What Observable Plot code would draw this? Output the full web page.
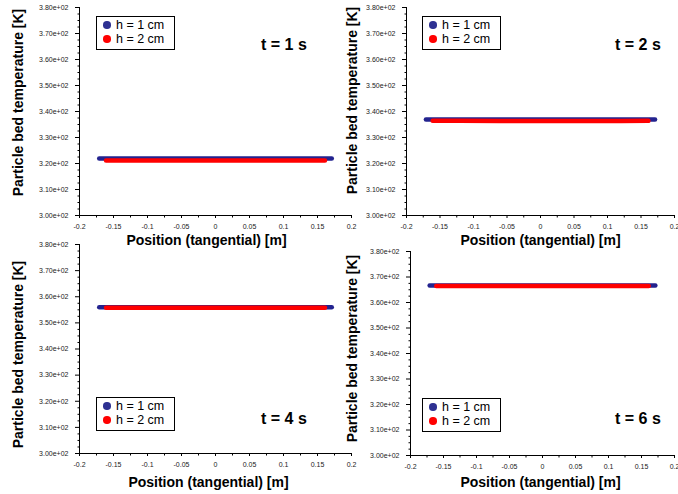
<!DOCTYPE html>
<html><head><meta charset="utf-8">
<script src="https://cdn.jsdelivr.net/npm/d3@7"></script>
<script src="https://cdn.jsdelivr.net/npm/@observablehq/plot@0.6"></script>
<style>
body{margin:0;background:#fff;font-family:"Liberation Sans",Arial,sans-serif;}
#root{position:relative;width:678px;height:494px;overflow:hidden;background:#fff;}
.panel{position:absolute;}
.legend{position:absolute;border:1.5px solid #000;background:#fff;box-sizing:border-box;width:79px;height:34px;font-size:12.5px;color:#000;}
.legend .row{position:absolute;left:0;height:12px;line-height:12px;white-space:nowrap;}
.legend .dot{position:absolute;left:6px;top:2.25px;width:7.5px;height:7.5px;border-radius:50%;}
.legend .lab{position:absolute;left:19px;top:0;}
.tlab{position:absolute;font-size:16px;font-weight:bold;white-space:nowrap;line-height:18px;}
</style>
</head><body><div id="root"></div>
<script>
// ---- data ----
const seriesNames = ["h = 1 cm", "h = 2 cm"];
const seriesColors = ["#23238f", "#ff0000"];
const timeLabels = ["t = 1 s", "t = 2 s", "t = 4 s", "t = 6 s"];
const xs_h1 = [-0.171, -0.12, -0.06, 0, 0.06, 0.12, 0.171];
const xs_h2 = [-0.161, -0.12, -0.06, 0, 0.06, 0.12, 0.161];
const T_t1_h1 = [321.9, 321.9, 321.9, 321.9, 321.9, 321.9, 321.9];
const T_t1_h2 = [321.2, 321.2, 321.2, 321.2, 321.2, 321.2, 321.2];
const T_t2_h1 = [336.9, 336.9, 336.9, 336.9, 336.9, 336.9, 336.9];
const T_t2_h2 = [336.4, 336.4, 336.3, 336.3, 336.3, 336.3, 336.4];
const T_t4_h1 = [356.0, 356.0, 356.0, 356.0, 356.0, 356.0, 356.0];
const T_t4_h2 = [355.8, 355.8, 355.8, 355.8, 355.8, 355.8, 355.8];
const T_t6_h1 = [366.7, 366.7, 366.7, 366.7, 366.7, 366.7, 366.7];
const T_t6_h2 = [366.5, 366.5, 366.5, 366.5, 366.5, 366.5, 366.5];
const yMajorTicks = [300, 310, 320, 330, 340, 350, 360, 370, 380];
const xMajorTicks = [-0.2, -0.15, -0.1, -0.05, 0, 0.05, 0.1, 0.15, 0.2];
const yTitle = "Particle bed temperature [K]";
const xTitle = "Position (tangential) [m]";

// ---- layout ----
const panels = [
  {x0:79, x1:351, yt:7, yb:215, ytx:18, yty:102, xtx:206, xty:240, h1:T_t1_h1, h2:T_t1_h2, t:timeLabels[0], leg:[96,16], tl:[261,36]},
  {x0:406, x1:674, yt:7, yb:215, ytx:352, yty:100, xtx:540, xty:240, h1:T_t2_h1, h2:T_t2_h2, t:timeLabels[1], leg:[422,16], tl:[615,36]},
  {x0:79, x1:351, yt:244, yb:453, ytx:18, yty:354, xtx:208, xty:482, h1:T_t4_h1, h2:T_t4_h2, t:timeLabels[2], leg:[96,397], tl:[261,410]},
  {x0:410, x1:674, yt:251, yb:455, ytx:352, yty:348, xtx:540, xty:482, h1:T_t6_h1, h2:T_t6_h2, t:timeLabels[3], leg:[422,398], tl:[615,410]}
];

const yMinor = d3.range(300, 380.01, 2.5).filter(v => v % 10 !== 0);
const xMinor = d3.range(-0.175, 0.2, 0.05).map(v => +v.toFixed(3));
const fmtY = d => (d / 100).toFixed(2) + "e+02";
const fmtX = d => String(+d.toFixed(2));
const tickLeft = {draw(ctx) { ctx.moveTo(-2, 0); ctx.lineTo(0, 0); }};
const tickDown = {draw(ctx) { ctx.moveTo(0, 0); ctx.lineTo(0, 2); }};

const root = document.getElementById("root");
const mL = 75, mR = 10, mT = 10, mB = 40;

panels.forEach(p => {
  const data = [
    ...xs_h1.map((x, i) => ({x, T: p.h1[i], s: seriesNames[0]})),
    ...xs_h2.map((x, i) => ({x, T: p.h2[i], s: seriesNames[1]}))
  ];
  const W = p.x1 - p.x0 + mL + mR, H = p.yb - p.yt + mT + mB;
  const svg = Plot.plot({
    width: W, height: H, marginLeft: mL, marginRight: mR, marginTop: mT, marginBottom: mB,
    style: {background: "transparent", overflow: "visible", fontFamily: "'Liberation Sans', Arial, sans-serif", fontSize: "7px", color: "#000"},
    x: {domain: [-0.2, 0.2]},
    y: {domain: [300, 380]},
    color: {domain: seriesNames, range: seriesColors},
    marks: [
      Plot.axisY(yMajorTicks, {tickSize: 4, tickPadding: 7, tickFormat: fmtY, label: null, fill: "#222", stroke: "#000"}),
      Plot.dot(yMinor, {x: () => -0.2, y: d => d, symbol: tickLeft, stroke: "#000", fill: "none", strokeWidth: 1}),
      Plot.axisX(xMajorTicks, {tickSize: 3, tickPadding: 6, tickFormat: fmtX, label: null, fill: "#222", stroke: "#000"}),
      Plot.dot(xMinor, {x: d => d, y: () => 300, symbol: tickDown, stroke: "#000", fill: "none", strokeWidth: 1}),
      Plot.frame({anchor: "left", stroke: "#000"}),
      Plot.frame({anchor: "bottom", stroke: "#000"}),
      Plot.line(data, {x: "x", y: "T", z: "s", stroke: "s", strokeWidth: 4.5, strokeLinecap: "round"}),
      Plot.text([yTitle], {text: d => d, frameAnchor: "left", textAnchor: "middle", lineAnchor: "middle", rotate: -90, dx: p.ytx - p.x0, dy: p.yty - (p.yt + p.yb) / 2, fontSize: 14, fontWeight: "bold", fill: "#000"}),
      Plot.text([xTitle], {text: d => d, frameAnchor: "bottom", textAnchor: "middle", lineAnchor: "middle", dx: p.xtx - (p.x0 + p.x1) / 2, dy: p.xty - p.yb, fontSize: 14, fontWeight: "bold", fill: "#000"})
    ]
  });
  svg.classList.add("panel");
  svg.style.left = (p.x0 - mL) + "px";
  svg.style.top = (p.yt - mT) + "px";
  svg.style.position = "absolute";
  root.appendChild(svg);

  const leg = document.createElement("div");
  leg.className = "legend";
  leg.style.left = p.leg[0] + "px";
  leg.style.top = p.leg[1] + "px";
  seriesNames.forEach((n, i) => {
    const row = document.createElement("div");
    row.className = "row";
    row.style.top = (1.8 + i * 14.4) + "px";
    row.style.width = "100%";
    const dot = document.createElement("span");
    dot.className = "dot";
    dot.style.background = i === 0 ? "#2e3192" : "#ff0000";
    const lab = document.createElement("span");
    lab.className = "lab";
    lab.textContent = n;
    row.appendChild(dot); row.appendChild(lab);
    leg.appendChild(row);
  });
  root.appendChild(leg);

  const tl = document.createElement("div");
  tl.className = "tlab";
  tl.style.left = p.tl[0] + "px";
  tl.style.top = p.tl[1] + "px";
  tl.textContent = p.t;
  root.appendChild(tl);
});
</script>
</body></html>
